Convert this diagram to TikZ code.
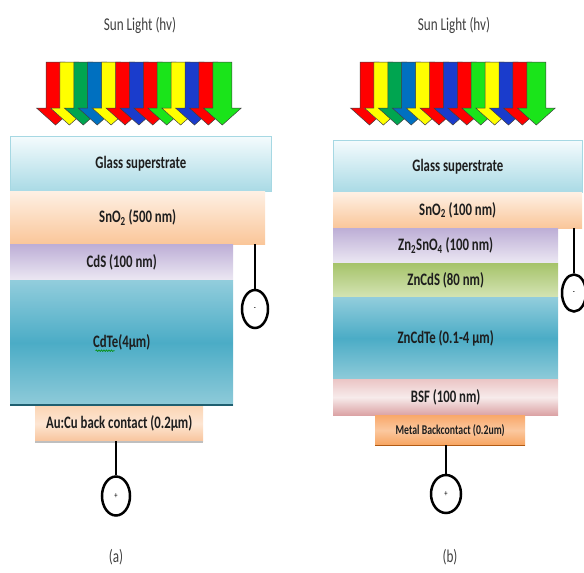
\documentclass[tikz,border=0pt]{standalone}
\usepackage{fontspec}
\setmainfont{Carlito}[FakeStretch=0.73]
\usetikzlibrary{shapes.geometric,decorations.pathmorphing}
\definecolor{arR}{HTML}{FF0000}
\definecolor{arY}{HTML}{FFFF00}
\definecolor{arG}{HTML}{00A550}
\definecolor{arB}{HTML}{0070C0}
\definecolor{arD}{HTML}{1A3CCC}
\definecolor{arL}{HTML}{1AE41A}
\definecolor{glassT}{HTML}{F4FBFD}
\definecolor{glassB}{HTML}{A9DAE5}
\definecolor{glassE}{HTML}{A6D8E3}
\definecolor{snoT}{HTML}{FEF0E4}
\definecolor{snoB}{HTML}{FAC699}
\definecolor{cdsT}{HTML}{BDAED6}
\definecolor{cdsB}{HTML}{ECE8F3}
\definecolor{cdteT}{HTML}{92CDDC}
\definecolor{cdteM}{HTML}{4BACC6}
\definecolor{cdteB}{HTML}{8FCBD9}
\definecolor{cdteE}{HTML}{1F5F70}
\definecolor{auT}{HTML}{FBD5B5}
\definecolor{auM}{HTML}{FDE6D3}
\definecolor{auB}{HTML}{F8C49C}
\definecolor{zncdsT}{HTML}{A6C36A}
\definecolor{zncdsB}{HTML}{D4E4B4}
\definecolor{bsfT}{HTML}{EBC5C5}
\definecolor{bsfM}{HTML}{F7EBEB}
\definecolor{bsfB}{HTML}{DBA2A4}
\definecolor{metT}{HTML}{F9A86A}
\definecolor{metM}{HTML}{FBC89F}
\definecolor{metB}{HTML}{F7A460}
\definecolor{metE}{HTML}{B15A14}
\definecolor{txt}{HTML}{1E1E1E}
\definecolor{gtxt}{HTML}{404040}
\newcommand\sunarrows[1]{%
  \foreach \c [count=\i from 0] in {arR,arY,arG,arB,arY,arR,arD,arR,arL,arY,arD,arR,arL}{%
    \pgfmathsetmacro\L{#1+\i*13.9}
    \filldraw[sunarrow,fill=\c] (\L,62) -- (\L+19,62) -- (\L+19,108) -- (\L+28.5,108)
      -- (\L+9.5,125) -- (\L-9.5,108) -- (\L,108) -- cycle;
  }}
\begin{document}
\begin{tikzpicture}[x=1pt,y=-1pt,
  layer/.style={rectangle,inner sep=0pt,anchor=north west,
    font=\fontsize{17.5}{20}\selectfont\bfseries,text=txt},
  sunarrow/.style={draw=black!75,line width=0.5pt,line join=miter},
  pole/.style={ellipse,draw=black,line width=2.5pt,inner sep=0pt,
    font=\fontsize{9}{10}\selectfont},
  wire/.style={draw=black,line width=2.6pt},
  title/.style={anchor=base,font=\fontsize{18}{20}\selectfont,text=gtxt},
  caption/.style={anchor=center,font=\fontsize{18}{20}\selectfont,text=gtxt}]
\useasboundingbox (0,0) rectangle (584,573);

% ---------------- (a) ----------------
\node[title] (suna) at (140,30) {Sun Light (hv)};
\sunarrows{46}
\node[layer,minimum width=261pt,minimum height=55pt,top color=glassT,bottom color=glassB,draw=glassE,line width=0.7pt] (glassa) at (10,136) {Glass superstrate};
\node[layer,minimum width=255pt,minimum height=53pt,top color=snoT,bottom color=snoB] (snoa) at (10,191) {SnO\textsubscript{2} (500 nm)};
\node[layer,minimum width=223pt,minimum height=36pt,top color=cdsT,bottom color=cdsB] (cdsa) at (10,244) {CdS (100 nm)};
\node[layer,minimum width=223pt,minimum height=125pt,top color=cdteT,bottom color=cdteB,middle color=cdteM] (cdtea) at (10,280) {CdTe(4µm)};
\draw[cdteE,line width=2pt] (cdtea.south west) -- (cdtea.south east);
\draw[green!55!black,line width=0.6pt,decorate,decoration={snake,amplitude=0.8pt,segment length=2.5pt}]
  ([xshift=-26pt,yshift=-8pt]cdtea.center) -- ([xshift=-7pt,yshift=-8pt]cdtea.center);
\node[layer,minimum width=168pt,minimum height=35pt,top color=auT,bottom color=auB,middle color=auM] (aua) at (35,406) {Au:Cu back contact (0.2µm)};
\draw[black!25,line width=1.2pt] ([yshift=-0.6pt]aua.south west) -- ([yshift=-0.6pt]aua.south east);
\node[pole,minimum width=28pt,minimum height=39pt] (plusa) at (116,496) {+};
\node[pole,minimum width=26pt,minimum height=38pt] (minusa) at (255,309) {-};
\draw[wire] (aua.south -| plusa.north) -- (plusa.north);
\draw[wire] (snoa.south -| minusa.north) -- (minusa.north);
\node[caption] (capa) at (116,557) {(a)};

% ---------------- (b) ----------------
\node[title] (sunb) at (454,30) {Sun Light (hv)};
\sunarrows{360}
\node[layer,minimum width=249pt,minimum height=52pt,top color=glassT,bottom color=glassB,draw=glassE,line width=0.7pt] (glassb) at (333,140) {Glass superstrate};
\node[layer,minimum width=249pt,minimum height=36pt,top color=snoT,bottom color=snoB] (snob) at (333,192) {SnO\textsubscript{2} (100 nm)};
\node[layer,minimum width=225pt,minimum height=35pt,top color=cdsT,bottom color=cdsB] (znsnob) at (333,228) {Zn\textsubscript{2}SnO\textsubscript{4} (100 nm)};
\node[layer,minimum width=225pt,minimum height=34pt,top color=zncdsT,bottom color=zncdsB] (zncdsb) at (333,263) {ZnCdS (80 nm)};
\node[layer,minimum width=225pt,minimum height=82pt,top color=cdteT,bottom color=cdteB,middle color=cdteM] (zncdteb) at (333,297) {ZnCdTe (0.1-4 µm)};
\node[layer,minimum width=225pt,minimum height=36pt,top color=bsfT,bottom color=bsfB,middle color=bsfM] (bsfb) at (333,379) {BSF (100 nm)};
\node[layer,minimum width=150pt,minimum height=30pt,top color=metT,bottom color=metB,middle color=metM,font=\fontsize{13.4}{15}\selectfont\bfseries] (metb) at (375,415) {Metal Backcontact (0.2um)};
\draw[metE,line width=1.5pt] (metb.south west) -- (metb.south east);
\node[pole,minimum width=30pt,minimum height=38pt] (plusb) at (446,494) {+};
\node[pole,minimum width=24pt,minimum height=37pt] (minusb) at (574,293) {-};
\draw[wire] (metb.south -| plusb.north) -- (plusb.north);
\draw[wire] (snob.south -| minusb.north) -- (minusb.north);
\node[caption] (capb) at (450,557) {(b)};
\end{tikzpicture}
\end{document}
